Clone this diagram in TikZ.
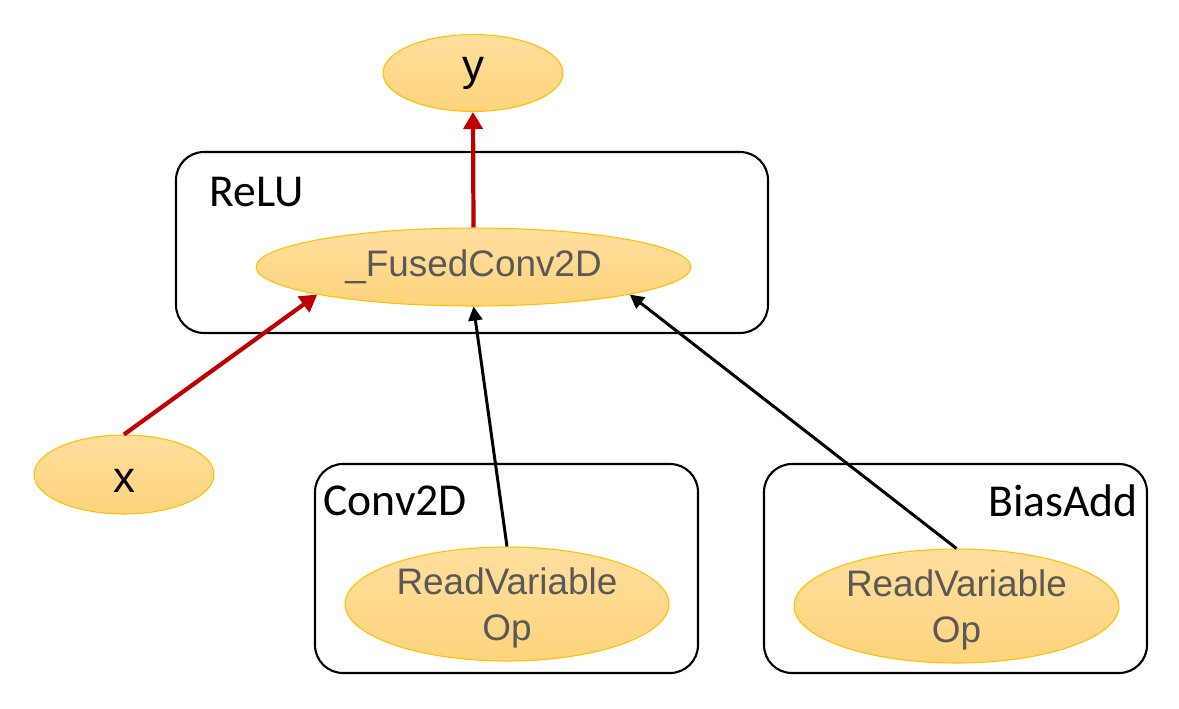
\documentclass[tikz,border=0pt]{standalone}
\usepackage{fontspec}
\setmainfont{Liberation Sans}
\newfontfamily\arialf{Liberation Sans}
\newfontfamily\calib{Carlito}
\usetikzlibrary{shapes.geometric,arrows.meta}
\definecolor{ellborder}{HTML}{FFC000}
\definecolor{elltop}{HTML}{FFDF9E}
\definecolor{ellbot}{HTML}{FED37B}
\definecolor{elltext}{HTML}{595959}
\definecolor{darkred}{HTML}{C00000}
\tikzset{
  ell/.style={ellipse, draw=ellborder, line width=0.6pt, top color=elltop, bottom color=ellbot, inner sep=0pt, text=elltext, font=\arialf\fontsize{21}{26}\selectfont, align=center},
  ellbk/.style={ell, text=black, font=\arialf\fontsize{25}{28}\selectfont},
  elltxt/.style={inner sep=0pt, text=elltext, font=\arialf\fontsize{21}{26}\selectfont, align=center},
  elltxtbk/.style={inner sep=0pt, text=black, font=\arialf\fontsize{25}{28}\selectfont},
  grp/.style={draw=black, line width=1.2pt, rounded corners=0.56cm},
  grplabel/.style={font=\calib\fontsize{26}{30}\selectfont, inner sep=0pt},
  redarrow/.style={draw=darkred, line width=2.4pt, -{Triangle[length=0.34cm,width=0.38cm]}},
  blkarrow/.style={draw=black, line width=1.7pt, -{Triangle[length=0.28cm,width=0.28cm]}}
}
\begin{document}
\begin{tikzpicture}[x=0.02cm,y=-0.02cm]
\useasboundingbox (0,0) rectangle (1179,708);
% group boxes
\draw[grp] (176,152) rectangle (768,333);
\draw[grp] (315,464) rectangle (698,673);
\draw[grp] (764,464) rectangle (1147,673);
\node[grplabel, anchor=base west] (relu) at (209,206) {ReLU};
\node[grplabel, anchor=base west] (conv) at (323,515) {Conv2D};
\node[grplabel, anchor=base east] (bias) at (1138,516) {BiasAdd};
% ellipses
\node[ellbk, minimum width=3.6cm, minimum height=1.54cm] (y) at (473,73) {y};
\node[ell, minimum width=8.7cm, minimum height=1.56cm] (fused) at (473.5,267) {\_FusedConv2D};
\node[ellbk, minimum width=3.6cm, minimum height=1.58cm,
  label={[elltxtbk, yshift=-0.13cm]center:x}] (x) at (124,474.5) {};
\node[ell, minimum width=6.48cm, minimum height=2.28cm,
  label={[elltxt, yshift=-0.08cm]center:ReadVariable\\Op}] (rvo1) at (507,604) {};
\node[ell, minimum width=6.5cm, minimum height=2.28cm,
  label={[elltxt, yshift=-0.08cm]center:ReadVariable\\Op}] (rvo2) at (956.5,606) {};
% connectors
\draw[redarrow] (fused.north) -- (y.south);
\draw[redarrow] (x.north) -- (fused.190);
\draw[blkarrow] (rvo1.north) -- (fused.south);
\draw[blkarrow] (rvo2.north) -- (fused.350);
\end{tikzpicture}
\end{document}
